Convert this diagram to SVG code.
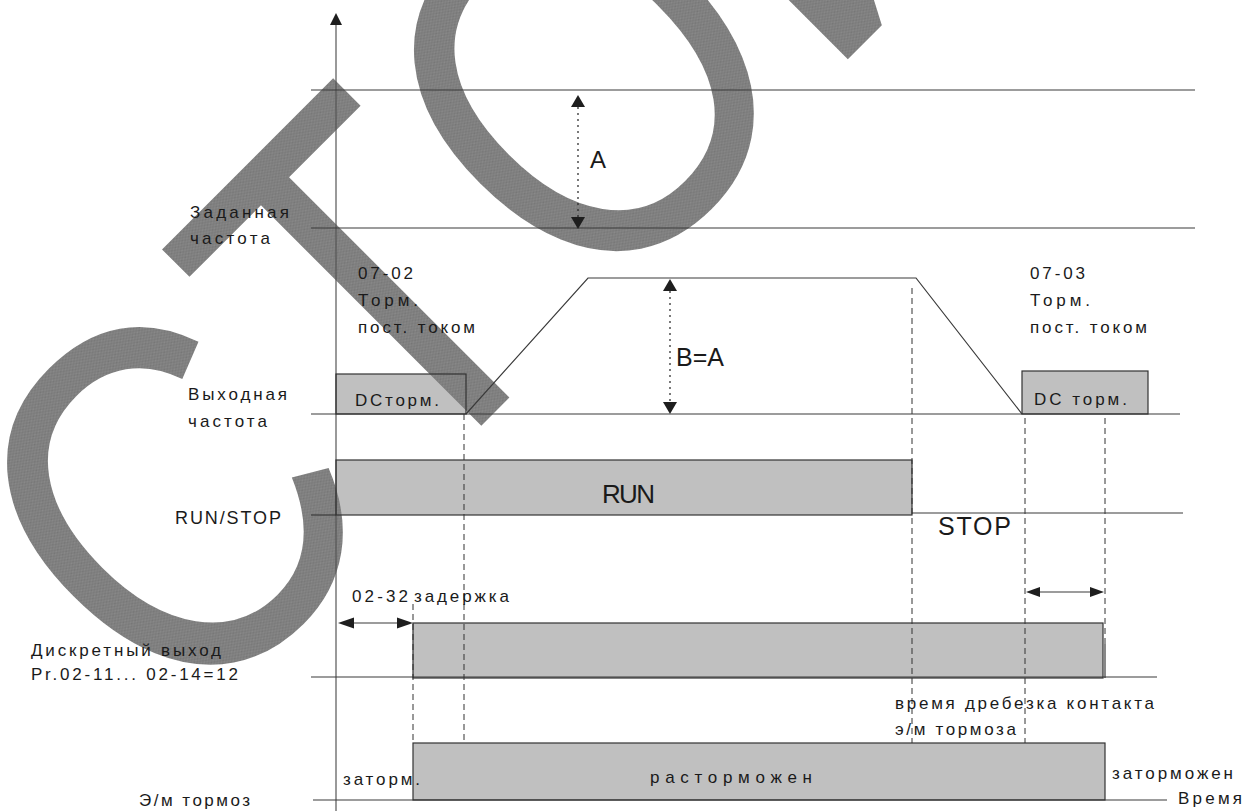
<svg xmlns="http://www.w3.org/2000/svg" width="1243" height="811" viewBox="0 0 1243 811">
<style>
.ln{stroke:#3a3a3a;stroke-width:1.2;fill:none}
.ax{stroke:#555;stroke-width:1.2;fill:none}
.dash{stroke:#333;stroke-width:1;stroke-dasharray:6,4;fill:none}
.dot{stroke:#222;stroke-width:1.2;stroke-dasharray:2,4;fill:none}
.boxf{fill:#c0c0c0;stroke:none}
.boxs{fill:none;stroke:#333;stroke-width:1.2}
.ah{fill:#1e1e1e}
.lb{font-family:"Liberation Sans",Arial,sans-serif;font-size:17px;fill:#1a1a1a}
.big{font-family:"Liberation Sans",Arial,sans-serif;font-size:25px;fill:#1a1a1a}
.wm{font-family:"Liberation Sans",Arial,sans-serif;font-size:428px;fill:url(#chk);font-kerning:none}
</style>
<defs>
<pattern id="chk" width="2" height="2" patternUnits="userSpaceOnUse">
<rect width="2" height="2" fill="#8a8a8a"/>
<rect width="1" height="1" fill="#767676"/>
<rect x="1" y="1" width="1" height="1" fill="#767676"/>
</pattern>
</defs>
<rect width="1243" height="811" fill="#fff"/>

<g id="box-fills">
<rect class="boxf" x="336" y="374" width="130" height="40"/>
<rect class="boxf" x="1022" y="371" width="126" height="43"/>
<rect class="boxf" x="336" y="460" width="576" height="55"/>
<rect class="boxf" x="413" y="623" width="690" height="55"/>
<rect class="boxf" x="413" y="743" width="692" height="57"/>
</g>

<g id="watermark" transform="translate(403,504) rotate(-45) scale(1,1.19)">
<text class="wm" x="-320" y="8">С</text>
<text class="wm" x="0" y="0">Т</text>
<text class="wm" x="261" y="4">О</text>
<text class="wm" x="594" y="0">И</text>
</g>

<g id="connectors">
<line class="ax" x1="336" y1="22" x2="336" y2="811"/>
<polygon class="ah" points="336,13 330,25 342,25"/>
<line class="ln" x1="311" y1="90" x2="1195" y2="90"/>
<line class="ln" x1="311" y1="228" x2="1195" y2="228"/>
<line class="ln" x1="311" y1="414" x2="1180" y2="414"/>
<polyline class="ln" points="466,414 588,278 916,278 1022,414"/>
<line class="ln" x1="311" y1="515" x2="336" y2="515"/>
<line class="ln" x1="912" y1="513" x2="1183" y2="513"/>
<line class="ln" x1="311" y1="677" x2="1157" y2="677"/>
<line class="ln" x1="313" y1="800" x2="1167" y2="800"/>

<line class="dash" x1="464" y1="414" x2="464" y2="743"/>
<line class="dash" x1="413" y1="604" x2="413" y2="743"/>
<line class="dash" x1="912" y1="288" x2="912" y2="743"/>
<line class="dash" x1="1025" y1="418" x2="1025" y2="743"/>
<line class="dash" x1="1105" y1="418" x2="1105" y2="644"/>

<line class="dot" x1="578" y1="107" x2="578" y2="217"/>
<polygon class="ah" points="578,95 571,107 585,107"/>
<polygon class="ah" points="578,229 571,217 585,217"/>
<line class="dot" x1="670" y1="291" x2="670" y2="402"/>
<polygon class="ah" points="670,279 663,291 677,291"/>
<polygon class="ah" points="670,414 663,402 677,402"/>

<line class="ln" x1="352" y1="623" x2="398" y2="623"/>
<polygon class="ah" points="338,623 354,617.5 354,628.5"/>
<polygon class="ah" points="413,623 397,617.5 397,628.5"/>
<line class="ln" x1="1039" y1="592" x2="1092" y2="592"/>
<polygon class="ah" points="1026,592 1040,587 1040,597"/>
<polygon class="ah" points="1104,592 1090,587 1090,597"/>
</g>

<g id="box-outlines">
<rect class="boxs" x="336" y="374" width="130" height="40"/>
<rect class="boxs" x="1022" y="371" width="126" height="43"/>
<rect class="boxs" x="336" y="460" width="576" height="55"/>
<rect class="boxs" x="413" y="623" width="690" height="55"/>
<line class="ln" x1="1105" y1="644" x2="1105" y2="678"/>
<rect class="boxs" x="413" y="743" width="692" height="57"/>
</g>

<g id="labels">
<text class="lb" x="190" y="218" textLength="99">Заданная</text>
<text class="lb" x="190" y="244" textLength="80">частота</text>
<text class="lb" x="358" y="279" textLength="55">07-02</text>
<text class="lb" x="358" y="306" textLength="60">Торм.</text>
<text class="lb" x="358" y="333" textLength="117">пост. током</text>
<text class="lb" x="188" y="400" textLength="99">Выходная</text>
<text class="lb" x="188" y="427" textLength="79">частота</text>
<text class="lb" x="355" y="406" textLength="84">DCторм.</text>
<text class="lb" x="175" y="524" textLength="106" style="font-size:18px">RUN/STOP</text>
<text class="lb" x="1030" y="279" textLength="55">07-03</text>
<text class="lb" x="1030" y="306" textLength="60">Торм.</text>
<text class="lb" x="1030" y="333" textLength="117">пост. током</text>
<text class="lb" x="1034" y="405" textLength="93">DC торм.</text>
<text class="big" x="590" y="168" style="font-size:24px">A</text>
<text class="big" x="676" y="366">B=A</text>
<text class="big" x="602" y="503" style="font-size:26px" textLength="53">RUN</text>
<text class="big" x="938" y="535" textLength="73">STOP</text>
<text class="lb" x="352" y="602" textLength="56">02-32</text>
<text class="lb" x="414" y="602" textLength="95">задержка</text>
<text class="lb" x="31" y="656" textLength="190">Дискретный выход</text>
<text class="lb" x="31" y="680" textLength="207">Pr.02-11... 02-14=12</text>
<text class="lb" x="895" y="709" textLength="259">время дребезка контакта</text>
<text class="lb" x="895" y="735" textLength="121">э/м тормоза</text>
<text class="lb" x="343" y="785" textLength="77">заторм.</text>
<text class="lb" x="650" y="783" textLength="162">расторможен</text>
<text class="lb" x="1112" y="779" textLength="121">заторможен</text>
<text class="lb" x="139" y="806" textLength="111">Э/м тормоз</text>
<text class="lb" x="1178" y="804" textLength="64">Время</text>
</g>
</svg>
